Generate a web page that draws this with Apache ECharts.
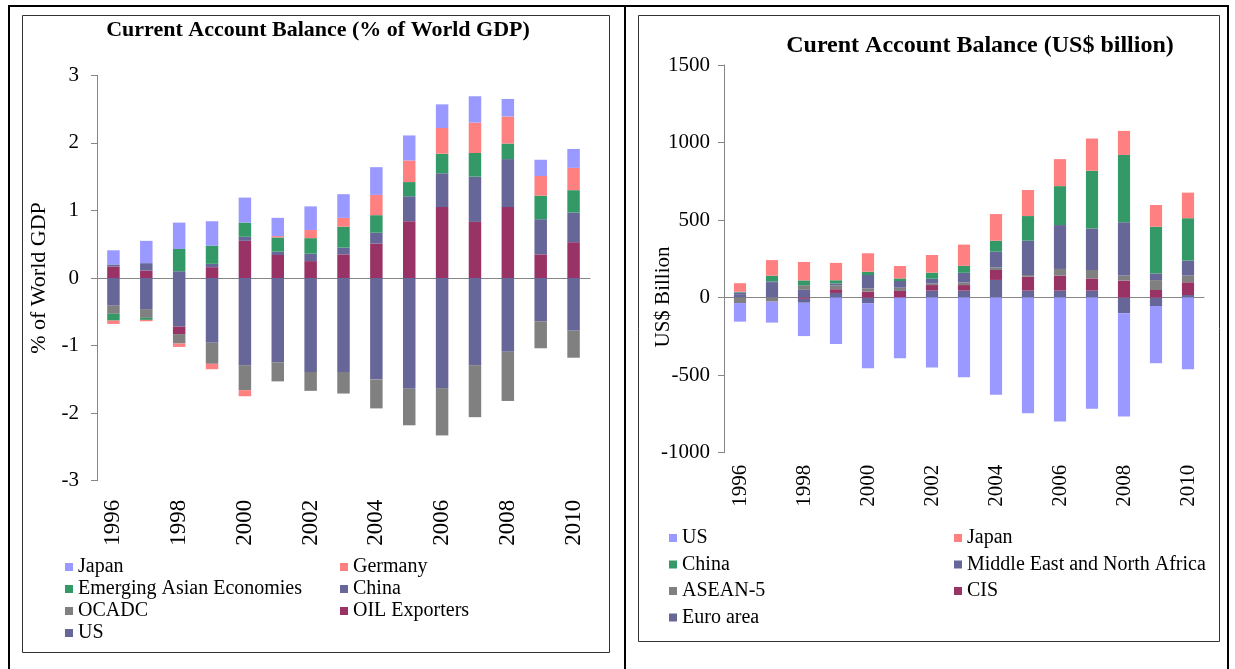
<!DOCTYPE html>
<html>
<head>
<meta charset="utf-8">
<title>Current Account Balance</title>
<script src="https://cdn.jsdelivr.net/npm/echarts@6/dist/echarts.min.js"></script>
<style>
    body { margin: 0; background: #fff; }
    #wrap { position: relative; width: 1235px; height: 669px; overflow: hidden; background: #fff; }
    #chartL { position: absolute; left: 0; top: 0; width: 625px; height: 669px; }
    #chartR { position: absolute; left: 625px; top: 0; width: 610px; height: 669px; }
    .linha { position: absolute; background: #000; }
</style>
</head>
<body>
<div id="wrap">
    <div id="chartL"></div>
    <div id="chartR"></div>
    <!-- bordas da tabela -->
    <div class="linha" style="left:8px; top:5px; width:1221px; height:2px;"></div>
    <div class="linha" style="left:8px; top:5px; width:2px; height:664px;"></div>
    <div class="linha" style="left:624px; top:5px; width:2px; height:664px;"></div>
    <div class="linha" style="left:1227px; top:5px; width:2px; height:664px;"></div>
</div>
<script>
// dados
const years = ['1996', '1997', '1998', '1999', '2000', '2001', '2002', '2003', '2004', '2005', '2006', '2007', '2008', '2009', '2010'];

// % of World GDP
const gdpJapan   = [0.21, 0.33, 0.39, 0.36, 0.37, 0.27, 0.35, 0.35, 0.41, 0.37, 0.35, 0.39, 0.26, 0.24, 0.28];
const gdpGermany = [-0.05, -0.02, -0.05, -0.08, -0.09, 0.02, 0.12, 0.13, 0.30, 0.32, 0.38, 0.45, 0.40, 0.29, 0.33];
const gdpEAE     = [-0.10, -0.03, 0.33, 0.27, 0.21, 0.21, 0.23, 0.31, 0.26, 0.21, 0.29, 0.35, 0.23, 0.35, 0.33];
const gdpChina   = [0.03, 0.11, 0.10, 0.05, 0.06, 0.05, 0.11, 0.10, 0.16, 0.37, 0.50, 0.67, 0.71, 0.52, 0.44];
const gdpOCADC   = [-0.12, -0.13, -0.14, -0.31, -0.37, -0.28, -0.28, -0.32, -0.43, -0.54, -0.70, -0.77, -0.73, -0.40, -0.40];
const gdpOil     = [0.17, 0.11, -0.11, 0.16, 0.55, 0.34, 0.25, 0.35, 0.51, 0.84, 1.05, 0.83, 1.05, 0.35, 0.53];
const gdpUS      = [-0.41, -0.46, -0.72, -0.96, -1.29, -1.25, -1.39, -1.39, -1.50, -1.64, -1.63, -1.29, -1.09, -0.64, -0.78];

// US$ billion
const usdEuro  = [18, 95, 50, 30, -37, 0, 45, 45, 114, 45, 45, 45, -101, -54, 17];
const usdCIS   = [0, 0, -8, 24, 39, 43, 36, 36, 64, 90, 97, 79, 110, 49, 82];
const usdASEAN = [-35, -26, 30, 25, 21, 21, 11, 17, 17, 11, 43, 54, 32, 64, 43];
const usdMENA  = [15, 10, -25, 12, 86, 43, 30, 62, 101, 221, 283, 268, 344, 43, 97];
const usdChina = [5, 37, 31, 21, 21, 17, 39, 45, 71, 159, 251, 372, 434, 301, 273];
const usdJapan = [55, 100, 119, 112, 119, 80, 114, 137, 172, 168, 174, 208, 155, 140, 165];
const usdUS    = [-120, -135, -215, -299, -418, -391, -451, -513, -627, -745, -799, -717, -666, -369, -462];

const serif = 'Liberation Serif, Times New Roman, serif';
const corEixo = '#868686';

function barra(nome, dados, cor) {
    return {
        name: nome,
        type: 'bar',
        stack: 'total',
        data: dados,
        barWidth: '38%',
        xAxisIndex: 0,
        itemStyle: { color: cor }
    };
}

function legenda(left, top, gap, itens) {
    return {
        left: left,
        top: top,
        orient: 'vertical',
        icon: 'rect',
        itemWidth: 8,
        itemHeight: 8,
        itemGap: gap,
        selectedMode: false,
        textStyle: { fontFamily: serif, fontSize: 20, lineHeight: 20, color: '#000' },
        data: itens
    };
}

function eixosX(fonte, margem) {
    return [
        {
            type: 'category', data: years, position: 'bottom',
            axisLine: { show: false, onZero: false },
            axisTick: { show: false },
            axisLabel: { rotate: 90, interval: 1, fontSize: fonte, margin: margem, color: '#000', fontFamily: serif }
        },
        {
            type: 'category', data: years, position: 'bottom',
            axisLine: { onZero: true, lineStyle: { color: corEixo } },
            axisTick: { interval: 0, length: 5, lineStyle: { color: corEixo } },
            axisLabel: { show: false }
        }
    ];
}

// grafico esquerdo
let chartL = echarts.init(document.getElementById('chartL'));
chartL.setOption({
    animation: false,
    textStyle: { fontFamily: serif },
    graphic: [
        { type: 'rect', silent: true, shape: { x: 22.5, y: 15.5, width: 587, height: 637 }, style: { fill: 'none', stroke: '#333', lineWidth: 1 } },
        { type: 'text', silent: true, x: 318, y: 30, style: { text: 'Current Account Balance (% of World GDP)', font: 'bold 22px ' + serif, textAlign: 'center', textVerticalAlign: 'middle', fill: '#000' } }
    ],
    grid: { left: 97, top: 75.3, width: 493, height: 405.4 },
    xAxis: eixosX(23, 19),
    yAxis: {
        type: 'value', min: -3, max: 3, interval: 1,
        name: '% of World GDP', nameLocation: 'middle', nameGap: 42,
        nameTextStyle: { fontSize: 22, color: '#000', fontFamily: serif },
        axisLine: { show: true, lineStyle: { color: corEixo } },
        axisTick: { show: true, length: 6, lineStyle: { color: corEixo } },
        splitLine: { show: false },
        axisLabel: { fontSize: 21, margin: 18, color: '#000', fontFamily: serif }
    },
    legend: [
        legenda(60, 552, 2, ['Japan', 'Emerging Asian Economies', 'OCADC', 'US']),
        legenda(335, 552, 2, ['Germany', 'China', 'OIL Exporters'])
    ],
    series: [
        barra('US', gdpUS, '#666699'),
        barra('OIL Exporters', gdpOil, '#993366'),
        barra('OCADC', gdpOCADC, '#808080'),
        barra('China', gdpChina, '#666699'),
        barra('Emerging Asian Economies', gdpEAE, '#339966'),
        barra('Germany', gdpGermany, '#FF8080'),
        barra('Japan', gdpJapan, '#9999FF')
    ]
});

// grafico direito
let chartR = echarts.init(document.getElementById('chartR'));
chartR.setOption({
    animation: false,
    textStyle: { fontFamily: serif },
    graphic: [
        { type: 'rect', silent: true, shape: { x: 13.5, y: 15.5, width: 581, height: 626 }, style: { fill: 'none', stroke: '#333', lineWidth: 1 } },
        { type: 'text', silent: true, x: 355, y: 46, style: { text: 'Curent Account Balance (US$ billion)', font: 'bold 24px ' + serif, textAlign: 'center', textVerticalAlign: 'middle', fill: '#000' } },
        { type: 'text', silent: true, x: 38, y: 297, rotation: Math.PI / 2, style: { text: 'US$ Billion', font: '21px ' + serif, textAlign: 'center', textVerticalAlign: 'middle', fill: '#000' } }
    ],
    grid: { left: 99, top: 65, width: 480, height: 387.7 },
    xAxis: eixosX(21, 12),
    yAxis: {
        type: 'value', min: -1000, max: 1500, interval: 500,
        axisLine: { show: true, lineStyle: { color: corEixo } },
        axisTick: { show: true, length: 6, lineStyle: { color: corEixo } },
        splitLine: { show: false },
        axisLabel: { fontSize: 21, margin: 14, color: '#000', fontFamily: serif, formatter: v => String(v) }
    },
    legend: [
        legenda(39, 523, 6.5, ['US', 'China', 'ASEAN-5', 'Euro area']),
        legenda(324, 523, 6.5, ['Japan', 'Middle East and North Africa', 'CIS'])
    ],
    series: [
        barra('Euro area', usdEuro, '#666699'),
        barra('CIS', usdCIS, '#993366'),
        barra('ASEAN-5', usdASEAN, '#808080'),
        barra('Middle East and North Africa', usdMENA, '#666699'),
        barra('China', usdChina, '#339966'),
        barra('Japan', usdJapan, '#FF8080'),
        barra('US', usdUS, '#9999FF')
    ]
});
</script>
</body>
</html>
